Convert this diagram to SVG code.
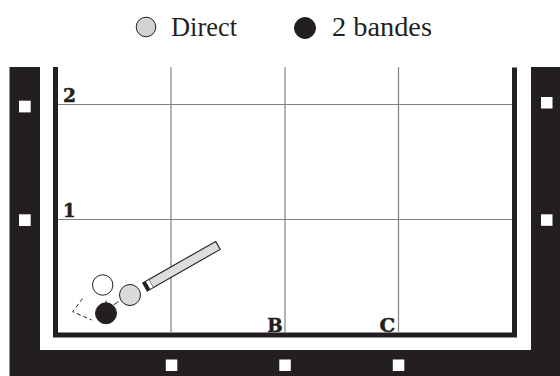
<svg xmlns="http://www.w3.org/2000/svg" width="560" height="376" viewBox="0 0 560 376">
  <style>
    .frame { fill: #231f20; }
    .diamond { fill: #ffffff; }
    .rail { fill: #231f20; }
    .grid { stroke: #808080; stroke-width: 1.2; fill: none; }
    .mark { font-family: "DejaVu Serif", "Liberation Serif", serif; font-weight: bold; font-size: 19px; fill: #231f20; stroke: #231f20; stroke-width: 0.5; }
    .legend { font-family: "Liberation Serif", "DejaVu Serif", serif; font-size: 28px; fill: #231f20; }
    .ball { stroke: #231f20; stroke-width: 1; }
    .trace { stroke: #231f20; stroke-width: 1; fill: none; }
  </style>

  <rect width="560" height="376" fill="#ffffff"/>

  <!-- legend -->
  <g id="legend">
    <circle cx="146" cy="27" r="9.8" fill="#d1d3d4" class="ball"/>
    <text x="171" y="36" class="legend" textLength="66" lengthAdjust="spacingAndGlyphs">Direct</text>
    <circle cx="305" cy="28" r="10.5" fill="#231f20" class="ball"/>
    <text x="332" y="36" class="legend" textLength="100" lengthAdjust="spacingAndGlyphs">2 bandes</text>
  </g>

  <!-- outer wooden frame (U shape) -->
  <g id="frame">
    <path class="frame" d="M9.5 67 H40 V350 H531 V67 H560 V376 H9.5 Z"/>
    <rect class="diamond" x="19" y="100.7" width="11.7" height="11.7"/>
    <rect class="diamond" x="19" y="214.3" width="11.7" height="11.7"/>
    <rect class="diamond" x="541" y="97" width="11.5" height="11.5"/>
    <rect class="diamond" x="541" y="214.3" width="11.5" height="11.5"/>
    <rect class="diamond" x="165.8" y="359.5" width="11.5" height="11.5"/>
    <rect class="diamond" x="279.3" y="359.5" width="11.5" height="11.5"/>
    <rect class="diamond" x="392.8" y="359.5" width="11.5" height="11.5"/>
  </g>

  <!-- playing surface grid -->
  <g id="grid">
    <path class="grid" d="M58 104.5 H512 M58 219.5 H512 M171 67 V332 M285 67 V332 M398.5 67 V332"/>
  </g>

  <!-- cushion rail -->
  <g id="rail">
    <path class="rail" d="M53 67 H58 V332.5 H512 V67.5 H517 V337.5 H53 Z"/>
  </g>

  <!-- row / column labels -->
  <g id="labels">
    <text x="63" y="101.5" class="mark" textLength="13" lengthAdjust="spacingAndGlyphs">2</text>
    <text x="63" y="216.5" class="mark" textLength="12.5" lengthAdjust="spacingAndGlyphs">1</text>
    <text x="267.3" y="331.5" class="mark" textLength="15.4" lengthAdjust="spacingAndGlyphs">B</text>
    <text x="379.5" y="331.5" class="mark" textLength="15.7" lengthAdjust="spacingAndGlyphs">C</text>
  </g>

  <!-- ball paths -->
  <g id="connectors">
    <path class="trace" d="M106 300.5 V304"/>
    <path class="trace" d="M113.5 305 L118.5 301.5"/>
    <path class="trace" stroke-dasharray="4 3" d="M82.5 298.5 L72.7 311.7 L91.7 320"/>
  </g>

  <!-- balls -->
  <g id="balls">
    <circle id="ball-white" cx="102.7" cy="285" r="10.2" fill="#ffffff" class="ball"/>
    <circle id="ball-gray" cx="130" cy="295" r="10.5" fill="#d9dadb" class="ball"/>
    <circle id="ball-black" cx="106" cy="313.3" r="10.5" fill="#231f20" class="ball"/>
  </g>

  <!-- cue -->
  <g id="cue" transform="translate(145 287) rotate(-29.7)">
    <rect x="0" y="-4.6" width="84" height="9.2" fill="#dcddde" stroke="#231f20" stroke-width="1.1"/>
    <rect x="0" y="-4.6" width="3.6" height="9.2" fill="#231f20"/>
    <line x1="6.8" y1="-4.6" x2="6.8" y2="4.6" stroke="#231f20" stroke-width="1"/>
    <rect x="3.6" y="-4.1" width="3.2" height="8.2" fill="#ffffff"/>
  </g>
</svg>
